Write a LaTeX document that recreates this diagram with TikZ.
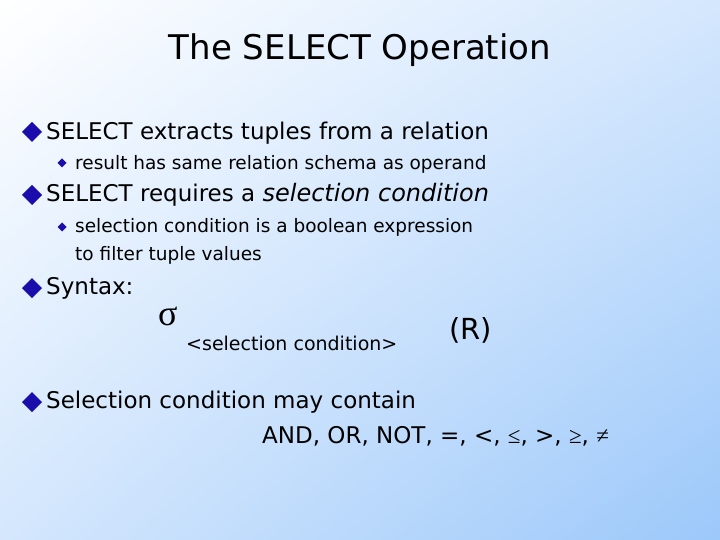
\documentclass[tikz,border=0pt]{standalone}
\usepackage{fontspec}
\usetikzlibrary{shadings}
\setmainfont{DejaVu Sans}
\newfontfamily\serf{Liberation Serif}
\definecolor{bul}{HTML}{1A0DAB}
\definecolor{bgb}{HTML}{9CC8FA}
\definecolor{bgm}{HTML}{D4E7FD}
\begin{document}
\begin{tikzpicture}[x=1pt,y=-1pt,
  l1/.style={anchor=west,inner sep=0pt,font=\fontsize{23}{28}\selectfont},
  l2/.style={anchor=west,inner sep=0pt,font=\fontsize{18.5}{28}\selectfont},
  d1/.style={fill=bul},
  d2/.style={fill=bul}]
\useasboundingbox (0,0) rectangle (720,540);
\shade[upper left=white,upper right=bgm,lower left=bgm,lower right=bgb] (0,0) rectangle (720,540);
\node[inner sep=0pt,font=\fontsize{34}{40}\selectfont] (title) at (360,50) {The SELECT Operation};
\foreach \y in {132,195,288,402}{
  \fill[d1] (32,\y-10) -- (42,\y) -- (32,\y+10) -- (22,\y) -- cycle;}
\foreach \y in {163,227}{
  \fill[d2] (62,\y-4.5) -- (66.5,\y) -- (62,\y+4.5) -- (57.5,\y) -- cycle;}
\node[l1] (t1) at (46,133) {SELECT extracts tuples from a relation};
\node[l2] (t2) at (75,164) {result has same relation schema as operand};
\node[l1] (t3) at (46,195) {SELECT requires a \textit{\fontsize{24}{30}\selectfont selection condition}};
\node[l2] (t4) at (75,227) {selection condition is a boolean expression};
\node[l2] (t5) at (75,255) {to filter tuple values};
\node[l1] (t6) at (46,288) {Syntax:};
\node[anchor=west,inner sep=0pt,font=\fontsize{36}{38}\selectfont\serf] (sig) at (158,316) {σ};
\node[anchor=west,inner sep=0pt,font=\fontsize{19}{24}\selectfont] (cond) at (186,343) {<selection condition>};
\node[anchor=west,inner sep=0pt,font=\fontsize{29}{32}\selectfont] (R) at (449,330) {(R)};
\node[l1] (t7) at (46,402) {Selection condition may contain};
\node[l1] (t8) at (262,436) {AND, OR, NOT, =, <, {\serf ≤}, >, {\serf ≥}, {\serf ≠}};
\end{tikzpicture}
\end{document}
